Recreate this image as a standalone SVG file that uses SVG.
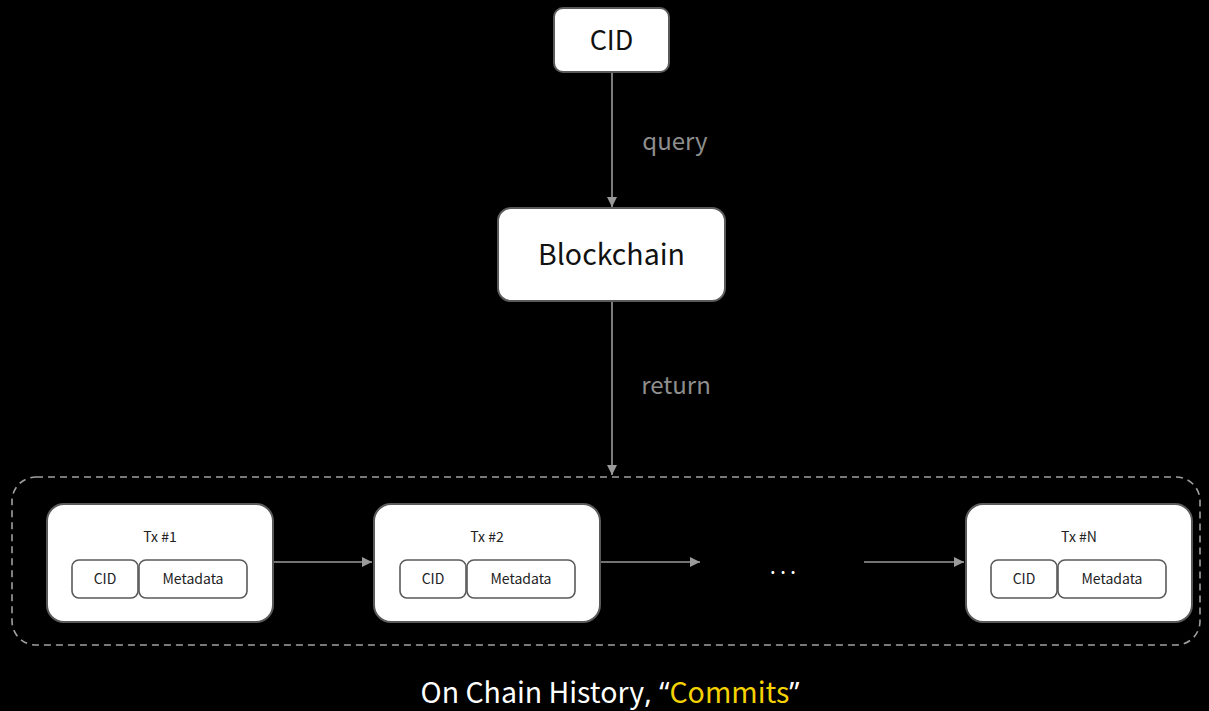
<svg xmlns="http://www.w3.org/2000/svg" width="1209" height="711" viewBox="0 0 1209 711">
<defs>
<marker id="ah" viewBox="0 0 10 10" refX="10" refY="5" markerWidth="10" markerHeight="10" markerUnits="userSpaceOnUse" orient="auto">
<path d="M0,0 L10,5 L0,10 z" fill="#9a9a9a"/>
</marker>
<style>
text{font-family:"Noto Sans CJK SC","Noto Sans","Liberation Sans",sans-serif;}
.node{fill:#fff;stroke:#5a5a5a;stroke-width:2;}
.sub{fill:#fff;stroke:#5a5a5a;stroke-width:1.6;}
.conn{stroke:#9a9a9a;stroke-width:1.6;fill:none;marker-end:url(#ah);}
.big{font-size:27px;fill:#111;text-anchor:middle;}
.sm{font-size:14px;fill:#222;text-anchor:middle;}
.lbl{font-size:24px;fill:#8e8e8e;text-anchor:middle;}
.p{font-family:"Noto Sans","Liberation Sans",sans-serif;}
</style>
</defs>
<rect width="1209" height="711" fill="#000"/>
<g id="container">
<rect x="12" y="477" width="1188" height="168" rx="24" fill="none" stroke="#a0a0a0" stroke-width="1.6" stroke-dasharray="7,5"/>
</g>
<g id="connectors">
<line class="conn" x1="612" y1="72" x2="612" y2="207"/>
<line class="conn" x1="612" y1="301" x2="612" y2="475"/>
<line class="conn" x1="273" y1="562" x2="372" y2="562"/>
<line class="conn" x1="600" y1="562" x2="700" y2="562"/>
<line class="conn" x1="864" y1="562" x2="964" y2="562"/>
<text class="lbl" x="675" y="150">query</text>
<text class="lbl" x="676" y="394">return</text>
</g>
<g id="cid">
<rect class="node" x="554" y="8" width="115" height="64" rx="9"/>
<text class="big" x="611.5" y="50">CID</text>
</g>
<g id="blockchain">
<rect class="node" x="498" y="208" width="227" height="93" rx="13"/>
<text class="big" x="611.5" y="265" style="font-size:28.5px">Blockchain</text>
</g>
<g id="tx1">
<rect class="node" x="47" y="504" width="226" height="118" rx="17"/>
<text class="sm" x="160" y="542">Tx #1</text>
<rect class="sub" x="72" y="560" width="66" height="38" rx="7"/>
<text class="sm" x="105" y="584">CID</text>
<rect class="sub" x="139" y="560" width="108" height="38" rx="7"/>
<text class="sm" x="193" y="584">Metadata</text>
</g>
<g id="tx2">
<rect class="node" x="374" y="504" width="226" height="118" rx="17"/>
<text class="sm" x="487" y="542">Tx #2</text>
<rect class="sub" x="400" y="560" width="66" height="38" rx="7"/>
<text class="sm" x="433" y="584">CID</text>
<rect class="sub" x="467" y="560" width="108" height="38" rx="7"/>
<text class="sm" x="521" y="584">Metadata</text>
</g>
<g id="ellipsis">
<text x="785" y="574" font-size="22" fill="#fff" text-anchor="middle" letter-spacing="4">...</text>
</g>
<g id="txn">
<rect class="node" x="966" y="504" width="226" height="118" rx="17"/>
<text class="sm" x="1079" y="542">Tx #N</text>
<rect class="sub" x="991" y="560" width="66" height="38" rx="7"/>
<text class="sm" x="1024" y="584">CID</text>
<rect class="sub" x="1058" y="560" width="108" height="38" rx="7"/>
<text class="sm" x="1112" y="584">Metadata</text>
</g>
<g id="caption">
<text x="610" y="703" font-size="28.5" fill="#fff" text-anchor="middle">On Chain History<tspan class="p">, “</tspan><tspan fill="#f5d200">Commits</tspan><tspan class="p">”</tspan></text>
</g>
</svg>
